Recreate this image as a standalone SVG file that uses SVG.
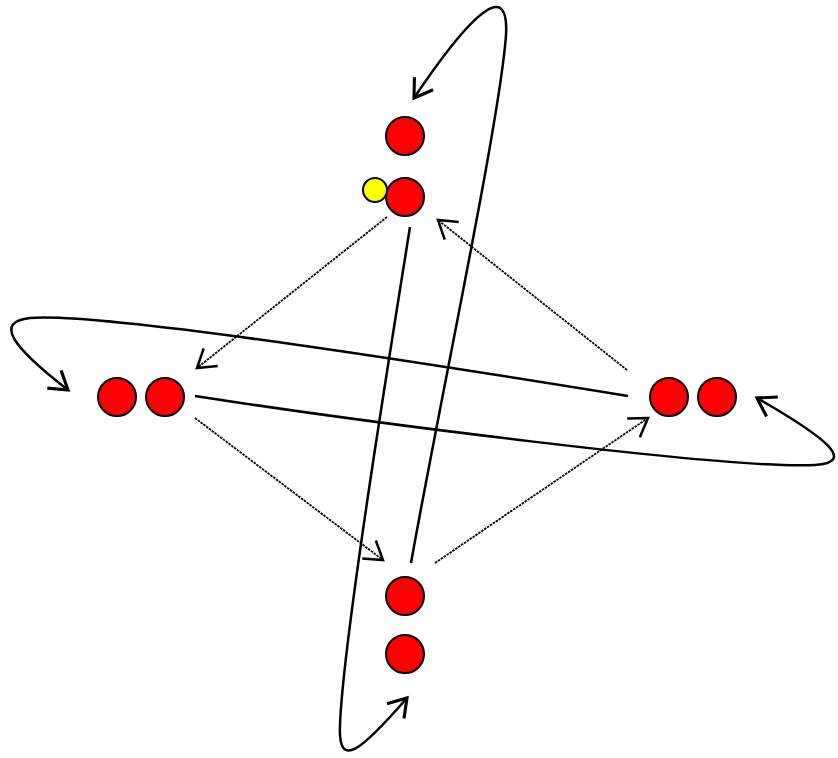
<svg xmlns="http://www.w3.org/2000/svg" width="838" height="758" viewBox="0 0 838 758">
<style>
.n{fill:#ff0000;stroke:#000;stroke-width:2}
.y{fill:#ffff00;stroke:#000;stroke-width:2}
.c{fill:none;stroke:#000;stroke-width:2.5}
.d{fill:none;stroke:#000;stroke-width:1.8;stroke-dasharray:2.5 1}
</style>
<defs>
<marker id="a" markerUnits="userSpaceOnUse" markerWidth="30" markerHeight="30" viewBox="-16 -12 20 24" refX="0" refY="0" orient="auto">
<path d="M-14,-9 L0,0 L-14,9" fill="none" stroke="#000" stroke-width="2.5"/>
</marker>
<marker id="b" markerUnits="userSpaceOnUse" markerWidth="30" markerHeight="30" viewBox="-16 -12 20 24" refX="0" refY="0" orient="auto">
<path d="M-14,-9 L0,0 L-14,9" fill="none" stroke="#000" stroke-width="2"/>
</marker>
</defs>
<g id="connectors">
<path class="c" d="M410,227 C392,340 343,640 340,725 C338,770 360,752 407,698" marker-end="url(#a)"/>
<path class="c" d="M411,563 C440,400 500,120 506,35 C509,-15 480,0 414,98" marker-end="url(#a)"/>
<path class="c" d="M628,396 C480,372 110,312 30,318 C-5,322 10,345 68,390" marker-end="url(#a)"/>
<path class="c" d="M195,396 C350,420 730,470 815,465 C855,462 830,440 757,398" marker-end="url(#a)"/>
<path class="d" d="M387,217 L197,368" marker-end="url(#b)"/>
<path class="d" d="M195,418 L383,560" marker-end="url(#b)"/>
<path class="d" d="M435,563 L648,418" marker-end="url(#b)"/>
<path class="d" d="M627,370 L438,220" marker-end="url(#b)"/>
</g>
<g id="top1"><circle class="n" cx="405" cy="136" r="19"/></g>
<g id="top2"><circle class="n" cx="405" cy="197" r="19"/></g>
<g id="yellow"><circle class="y" cx="375" cy="190" r="12"/></g>
<g id="left1"><circle class="n" cx="117" cy="397" r="19"/></g>
<g id="left2"><circle class="n" cx="165" cy="397" r="19"/></g>
<g id="right1"><circle class="n" cx="669" cy="397" r="19"/></g>
<g id="right2"><circle class="n" cx="717" cy="397" r="19"/></g>
<g id="bottom1"><circle class="n" cx="405" cy="596" r="19"/></g>
<g id="bottom2"><circle class="n" cx="405" cy="654" r="19"/></g>
</svg>
